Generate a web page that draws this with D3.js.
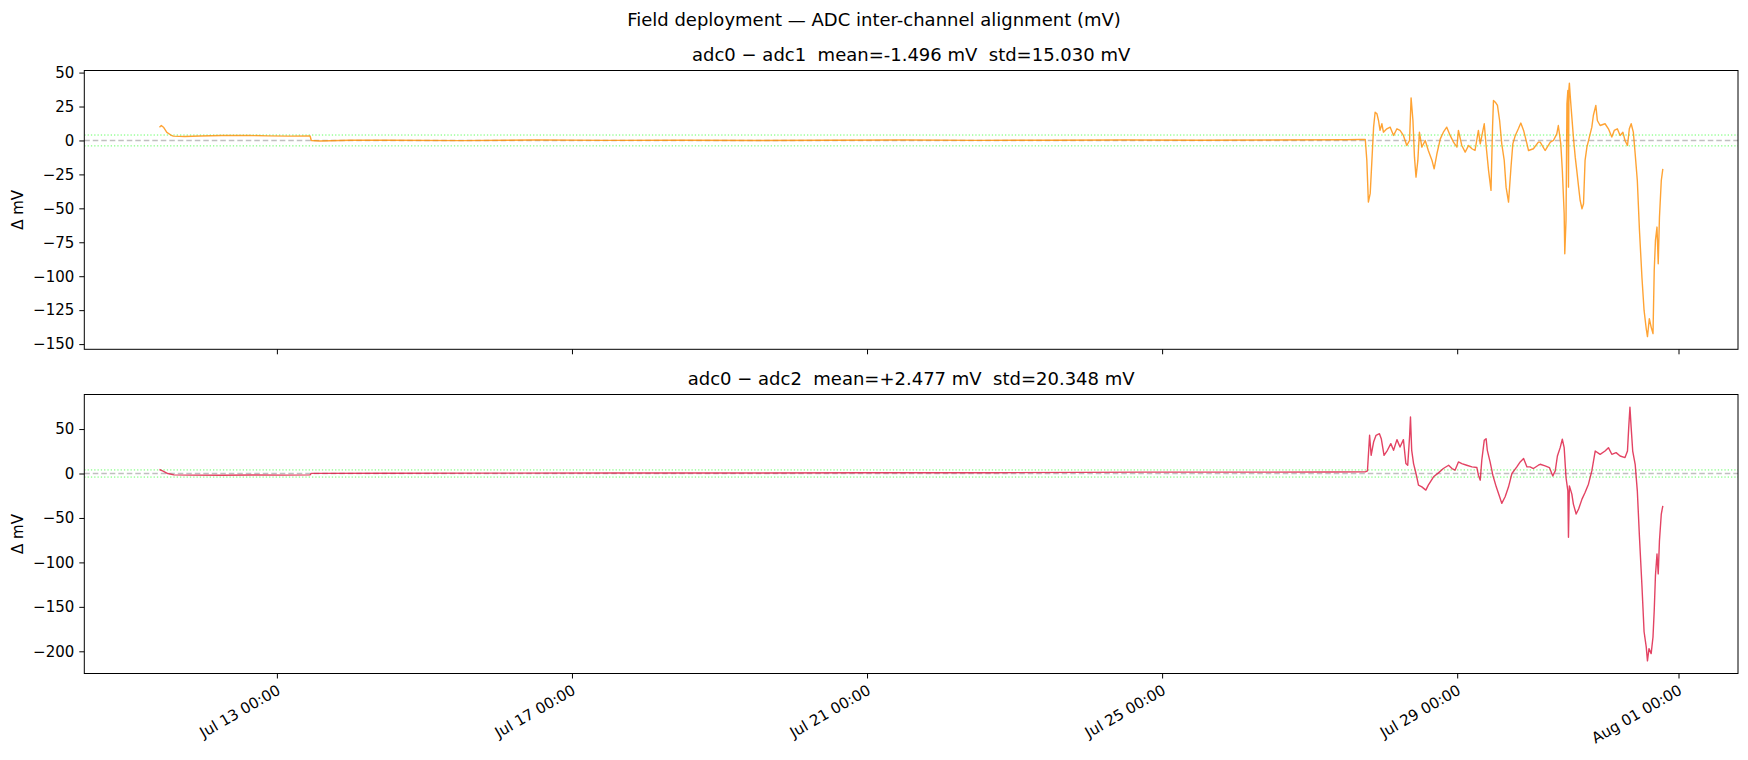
<!DOCTYPE html>
<html>
<head>
<meta charset="utf-8">
<script src="https://cdn.jsdelivr.net/npm/d3@7"></script>
<style>
  html, body { margin: 0; padding: 0; background: #fff; }
  svg { display: block; font-family: "DejaVu Sans", sans-serif; }
  text { white-space: pre; }
</style>
</head>
<body>
<svg id="chart" width="1748" height="760"></svg>
<script>
// --- Data (hours since Jul 11 00:00, delta in mV) ---
const startDate = new Date(2025, 6, 11, 0, 0);

const adc01Samples = [
  [9.8, 9.8], [10.4, 11], [11.2, 9.5], [12.2, 6], [13.5, 4], [14.3, 3.2], [18, 2.9], [23, 3.3],
  [30, 3.6], [39, 3.7], [45, 3.4], [52, 3.2], [58.8, 3.3], [59.2, 0], [62, -0.4], [72, 0.2],
  [84, 0.2], [108, -0.1], [132, 0.3], [156, 0.1], [180, 0.2], [204, 0.0], [228, 0.2], [252, 0.3],
  [276, 0.1], [300, 0.2], [324, 0.3], [348, 0.2], [372, 0.3], [396, 0.5], [400.4, 0.7],
  [402.1, 0.7], [402.6, -14.7], [403.1, -45.4], [403.7, -39], [404.2, -17], [404.8, 9.8],
  [405.3, 20.8], [405.9, 19.6], [406.4, 14.7], [406.9, 7.4], [407.5, 12.3], [408.0, 6.1],
  [409.1, 8.6], [410.2, 9.8], [411.3, 3.7], [412.4, 8.6], [413.4, 7.4], [414.5, 3.7],
  [415.6, -3.7], [416.5, 0], [417.0, 31.4], [417.6, 14.7], [418.1, -12.3], [418.6, -27],
  [419.2, -14.7], [419.7, 6.1], [420.5, -4.9], [421.6, 0], [422.6, -7.4], [423.8, -14.7],
  [424.5, -20.9], [425.4, -9.8], [426.5, 1.2], [427.5, 6.1], [428.6, 9.8], [429.7, 3.7],
  [430.8, -1.2], [431.9, -4.9], [432.4, 7.4], [433.5, -3.7], [434.6, -8.6], [435.7, -3.7],
  [436.8, -6.1], [437.8, -7.4], [438.9, 7.4], [439.5, -2.5], [440.8, 12.3], [441.4, -3.7],
  [442.2, -22], [443.0, -36.8], [443.5, 9.8], [443.8, 29.5], [444.4, 28.2], [445.1, 25.8],
  [445.8, 14.7], [446.5, -2.5], [447.3, -14.7], [447.9, -34.4], [448.7, -45.4], [449.5, -19.7],
  [450.1, -2.5], [450.9, 3.7], [451.9, 8.6], [452.7, 12.8], [453.6, 7.4], [454.7, -2.5],
  [455.2, -7.4], [456.8, -6.1], [458.4, -1.2], [459.0, -1.2], [460.6, -7.4], [462.3, -1.2],
  [463.3, 0], [464.4, 4.9], [464.9, 11], [465.7, -2.5], [466.2, -22], [466.8, -54],
  [467.0, -83.4], [467.4, -59], [467.7, 27], [468.0, 36.8], [468.2, -34.4], [468.35, 38],
  [468.5, 42.2], [468.8, 31.9], [469.3, 17.2], [469.8, 2.5], [470.4, -12.3], [470.9, -22],
  [471.5, -34.4], [472.0, -44.2], [472.6, -50.3], [473.1, -46.6], [473.6, -14.7], [474.2, -4.9],
  [475.0, 2.5], [475.8, 9.8], [476.3, 18.4], [477.1, 25.8], [477.6, 14.7], [478.5, 11],
  [480.1, 12.3], [481.2, 8.6], [482.3, 2.5], [483.1, 7.4], [484.1, 8.6], [485.0, 3.7],
  [485.9, 6.1], [486.6, 0], [487.4, -3.7], [488.0, 8.6], [488.6, 12.3], [489.3, 6.1],
  [489.9, -9.8], [490.6, -29.5], [491.3, -66.3], [492.1, -100.7], [492.8, -125.2],
  [493.5, -138.7], [493.9, -144.5], [494.5, -131.3], [495.1, -137.5], [495.7, -142.3],
  [496.1, -95.7], [496.5, -73.6], [497.0, -63.8], [497.4, -90.8], [497.8, -56.5],
  [498.4, -29.5], [498.9, -20.9]
];

const adc02Samples = [
  [9.8, 4.5], [10.8, 3.0], [12.5, 0], [14.5, -1.5], [20, -1.8], [30, -1.9], [40, -1.7],
  [50, -1.8], [58.8, -1.6], [59.2, 0.2], [84, 0.3], [120, 0.4], [160, 0.6], [200, 0.5],
  [240, 0.8], [280, 0.9], [310, 1.3], [330, 1.6], [360, 1.5], [390, 1.7], [402.1, 1.8],
  [402.8, 2.9], [403.5, 43], [404.0, 20.5], [404.8, 35.4], [405.6, 43], [406.7, 44.8],
  [407.3, 39.2], [408.2, 20.5], [409.3, 26.1], [410.4, 33.6], [411.3, 26.1], [412.4, 38.1],
  [413.4, 29.8], [414.5, 38.1], [415.3, 11.2], [415.9, 9.3], [416.5, 41], [416.8, 63.5],
  [417.2, 26.1], [417.8, 11.2], [418.6, 0], [419.4, -13.1], [420.5, -15], [421.8, -18.7],
  [422.6, -13.1], [424.3, -3.7], [425.9, 0.7], [427.5, 5.6], [429.2, 9.3], [430.3, 5.6],
  [431.3, 3.7], [432.4, 13], [433.5, 11.2], [435.1, 9.3], [436.8, 7.4], [438.4, 6.7],
  [438.9, -1.9], [439.5, -7.5], [440.0, 14.9], [440.8, 37.3], [441.4, 39.2], [441.8, 26.1],
  [442.7, 13], [443.6, -1.9], [444.7, -15], [445.8, -26.2], [446.5, -33.6], [447.6, -26.2],
  [448.7, -15], [449.8, 0], [451.4, 7.4], [452.5, 13], [453.6, 16.8], [454.7, 7.4],
  [455.7, 7.4], [456.8, 5.6], [458.4, 9.3], [459.0, 10.4], [460.6, 8.5], [462.0, 6.7],
  [463.1, -2.7], [463.9, 2.9], [464.6, 19.7], [465.5, 29.1], [466.2, 38.5], [466.8, 29.1],
  [467.4, -4.5], [468.0, -19.5], [468.2, -71.7], [468.5, -13.9], [469.3, -23.2],
  [469.8, -34.4], [470.7, -45.6], [471.5, -40], [472.6, -28.8], [473.6, -21.3], [474.7, -12],
  [475.8, 2.9], [476.9, 25.3], [478.5, 21.6], [480.1, 25.3], [481.2, 29.1], [482.3, 21.6],
  [483.7, 23.5], [485.0, 19.7], [486.6, 17.9], [487.4, 25.3], [487.8, 51.6], [488.2, 74.6],
  [488.6, 51.6], [489.1, 25.3], [489.9, 10.4], [490.6, -19.5], [491.3, -71.7], [492.1, -126],
  [492.8, -178], [493.5, -195], [493.9, -210.7], [494.4, -197], [495.1, -202.6],
  [495.7, -183.9], [496.1, -154], [496.5, -114.8], [497.0, -90.5], [497.4, -112.9],
  [497.8, -75.6], [498.4, -45.6], [498.9, -36.3]
];

const xTickDates = ["2025-07-13T00:00", "2025-07-17T00:00", "2025-07-21T00:00",
                    "2025-07-25T00:00", "2025-07-29T00:00", "2025-08-01T00:00"];
const yTicksTop = [-150, -125, -100, -75, -50, -25, 0, 25, 50];
const yTicksBottom = [-200, -150, -100, -50, 0, 50];
const toleranceBand = [-4, 4];

const panels = [
  { title: "adc0 \u2212 adc1  mean=-1.496 mV  std=15.030 mV", samples: adc01Samples,
    color: "#ff8c00", ticks: yTicksTop, top: 70.5, bottom: 349.3, titleY: 61 },
  { title: "adc0 \u2212 adc2  mean=+2.477 mV  std=20.348 mV", samples: adc02Samples,
    color: "#dc143c", ticks: yTicksBottom, top: 394.5, bottom: 673.5, titleY: 385 }
];

// --- Layout ---
const svg = d3.select("#chart");
const left = 84.3, right = 1738;
const tickFont = 15, titleFont = 18;
const toDate = h => new Date(startDate.getTime() + h * 3600e3);

// shared x domain: data extent padded 5% each side
const allHours = adc01Samples.map(d => d[0]).concat(adc02Samples.map(d => d[0]));
const hExt = d3.extent(allHours);
const hPad = (hExt[1] - hExt[0]) * 0.05;
const x = d3.scaleTime()
  .domain([toDate(hExt[0] - hPad), toDate(hExt[1] + hPad)])
  .range([left, right]);
const tickDates = xTickDates.map(s => new Date(s));
const fmt = d3.timeFormat("%b %d %H:%M");

svg.append("text")
  .attr("x", 874).attr("y", 26)
  .attr("text-anchor", "middle")
  .attr("font-size", titleFont)
  .text("Field deployment \u2014 ADC inter-channel alignment (mV)");

panels.forEach((p, i) => {
  const vExt = d3.extent(p.samples, d => d[1]);
  const vPad = (vExt[1] - vExt[0]) * 0.05;
  const y = d3.scaleLinear()
    .domain([vExt[0] - vPad, vExt[1] + vPad])
    .range([p.bottom, p.top]);

  const g = svg.append("g");
  const clipId = "clip" + i;
  svg.append("clipPath").attr("id", clipId)
    .append("rect")
    .attr("x", left).attr("y", p.top)
    .attr("width", right - left).attr("height", p.bottom - p.top);

  const plot = g.append("g").attr("clip-path", `url(#${clipId})`);

  // zero reference
  plot.append("line")
    .attr("x1", left).attr("x2", right)
    .attr("y1", y(0)).attr("y2", y(0))
    .attr("stroke", "#808080").attr("stroke-opacity", 0.5)
    .attr("stroke-width", 1.4)
    .attr("stroke-dasharray", "5.5,3");

  // tolerance band
  toleranceBand.forEach(v => {
    plot.append("line")
      .attr("x1", left).attr("x2", right)
      .attr("y1", y(v)).attr("y2", y(v))
      .attr("stroke", "#00ff00").attr("stroke-opacity", 0.6)
      .attr("stroke-width", 1)
      .attr("stroke-dasharray", "1.3,2");
  });

  const line = d3.line()
    .x(d => x(toDate(d[0])))
    .y(d => y(d[1]));

  plot.append("path")
    .datum(p.samples)
    .attr("d", line)
    .attr("fill", "none")
    .attr("stroke", p.color)
    .attr("stroke-opacity", 0.8)
    .attr("stroke-width", 1.4)
    .attr("stroke-linejoin", "round");

  // y axis
  const yAxis = g.append("g")
    .attr("transform", `translate(${left},0)`)
    .call(d3.axisLeft(y).tickValues(p.ticks).tickSize(5).tickPadding(5)
      .tickFormat(d => d < 0 ? "\u2212" + Math.abs(d) : d));
  yAxis.select(".domain").remove();
  yAxis.selectAll("text").attr("font-size", tickFont).attr("fill", "#000")
    .attr("font-family", "DejaVu Sans");
  yAxis.selectAll("line").attr("stroke", "#000").attr("stroke-width", 1);

  // x axis
  const xAxis = g.append("g")
    .attr("transform", `translate(0,${p.bottom})`)
    .call(d3.axisBottom(x).tickValues(tickDates).tickSize(5).tickFormat(""));
  xAxis.select(".domain").remove();
  xAxis.selectAll("line").attr("stroke", "#000").attr("stroke-width", 1);

  if (i === 1) {
    tickDates.forEach(t => {
      svg.append("text")
        .attr("transform", `translate(${x(t) - 1},${p.bottom + 10}) rotate(-30)`)
        .attr("text-anchor", "end")
        .attr("dy", "0.75em")
        .attr("font-size", tickFont)
        .text(fmt(t));
    });
  }

  // frame
  g.append("rect")
    .attr("x", left).attr("y", p.top)
    .attr("width", right - left).attr("height", p.bottom - p.top)
    .attr("fill", "none").attr("stroke", "#000").attr("stroke-width", 1);

  g.append("text")
    .attr("x", (left + right) / 2).attr("y", p.titleY)
    .attr("text-anchor", "middle")
    .attr("font-size", titleFont)
    .text(p.title);

  g.append("text")
    .attr("transform", `translate(18,${(p.top + p.bottom) / 2}) rotate(-90)`)
    .attr("text-anchor", "middle")
    .attr("dy", "0.35em")
    .attr("font-size", tickFont)
    .text("\u0394 mV");
});
</script>
</body>
</html>
